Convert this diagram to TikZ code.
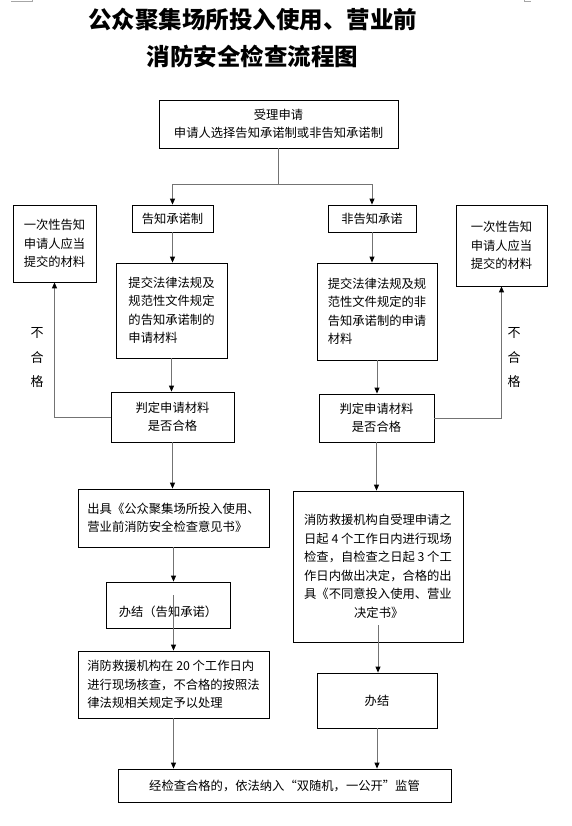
\documentclass[tikz,border=0pt]{standalone}
\usepackage{fontspec}
\setmainfont{Noto Sans CJK SC}
\usetikzlibrary{arrows.meta,positioning}
\tikzset{box/.style={draw, line width=0.8pt, inner sep=2pt, align=left, font=\fontsize{12.3}{18.5}\selectfont}}
\tikzset{cbox/.style={box, align=center}}
\tikzset{ln/.style={draw=black!55, line width=0.9pt}}
\tikzset{arr/.style={ln, -{Triangle[length=6pt,width=5pt,color=black]}}}
\tikzset{fail/.style={font=\fontsize{13}{24.5}\selectfont, align=center}}

\begin{document}
\begin{tikzpicture}[x=1pt,y=-1pt]
    \useasboundingbox (0,0) rectangle (571,826);
    \draw[black!35, line width=0.5pt] (11,1) -- (32,1) -- (32,0);
    \draw[black!35, line width=0.5pt] (524,0) -- (524,1) -- (531,1);

    \node[font=\fontsize{23.5}{37}\selectfont\bfseries, align=center] (title) at (252.5,38.5) {公众聚集场所投入使用、营业前\\消防安全检查流程图};

    \node[cbox, minimum width=239pt, minimum height=48pt] (accept) at (278.5,124) {受理申请\\申请人选择告知承诺制或非告知承诺制};
    \node[cbox, minimum width=81pt, minimum height=27pt] (gz) at (172.5,218.5) {告知承诺制};
    \node[cbox, minimum width=88pt, minimum height=27pt] (fgz) at (372,218.5) {非告知承诺};
    \node[cbox, minimum width=83pt, minimum height=77pt] (onceL) at (54.5,243.5) {一次性告知\\申请人应当\\提交的材料};
    \node[cbox, minimum width=91pt, minimum height=81pt] (onceR) at (501.5,245.5) {一次性告知\\申请人应当\\提交的材料};

    \node[box, minimum width=111pt, minimum height=95pt] (matL) at (171.5,310.5) {提交法律法规及\\规范性文件规定\\的告知承诺制的\\申请材料};
    \node[box, minimum width=120pt, minimum height=97pt] (matR) at (377,311.5) {提交法律法规及规\\范性文件规定的非\\告知承诺制的申请\\材料};
    \node[cbox, minimum width=123pt, minimum height=50pt] (judgeL) at (172.5,417) {判定申请材料\\是否合格};
    \node[cbox, minimum width=115pt, minimum height=48pt] (judgeR) at (376.5,418) {判定申请材料\\是否合格};
    \node[fail] (failL) at (37,358) {不\\合\\格};
    \node[fail] (failR) at (514,358) {不\\合\\格};

    \node[box, minimum width=191pt, minimum height=58pt] (issueL) at (173.5,518) {出具《公众聚集场所投入使用、\\营业前消防安全检查意见书》};
    \node[cbox, minimum width=124pt, minimum height=46pt] (doneL) at (168,605) {\raisebox{-8pt}[9pt][3pt]{办结（告知承诺）}};
    \node[box, minimum width=191pt, minimum height=67pt] (checkL) at (173.5,684.5) {消防救援机构在 20 个工作日内\\进行现场核查，不合格的按照法\\律法规相关规定予以处理};
    \node[box, minimum width=170pt, minimum height=151pt] (checkR) at (378,566.5) {消防救援机构自受理申请之\\日起 4 个工作日内进行现场\\检查，自检查之日起 3 个工\\作日内做出决定，合格的出\\具《不同意投入使用、营业\\\hspace*{50pt}决定书》};
    \node[cbox, minimum width=120pt, minimum height=55pt] (doneR) at (377,700.5) {办结};
    \node[cbox, minimum width=333pt, minimum height=33pt] (supervise) at (284.5,785.5) {经检查合格的，依法纳入“双随机，一公开”监管};

    \draw[ln] (accept.south) -- ++(0,36) coordinate (split);
    \draw[arr] (split) -| (gz.north);
    \draw[arr] (split) -| (fgz.north);
    \draw[arr] (gz.south) -- (gz.south |- matL.north);
    \draw[arr] (matL.south) -- (matL.south |- judgeL.north);
    \draw[arr] (judgeL.west) -| (onceL.south);
    \draw[arr] (judgeL.south) -- (judgeL.south |- issueL.north);
    \draw[arr] (issueL.south) -- (issueL.south |- doneL.north);
    \draw[arr] ([yshift=10pt]issueL.south |- doneL.center) -- (issueL.south |- checkL.north);
    \draw[arr] (checkL.south) -- (checkL.south |- supervise.north);

    \draw[arr] (fgz.south) -- (fgz.south |- matR.north);
    \draw[arr] (matR.south) -- (matR.south |- judgeR.north);
    \draw[arr] (judgeR.east) -| (onceR.south);
    \draw[arr] (judgeR.south) -- (judgeR.south |- checkR.north);
    \draw[arr] ([yshift=17pt]checkR.south) -- (checkR.south |- doneR.north);
    \draw[arr] (doneR.south) -- (doneR.south |- supervise.north);
\end{tikzpicture}
\end{document}
